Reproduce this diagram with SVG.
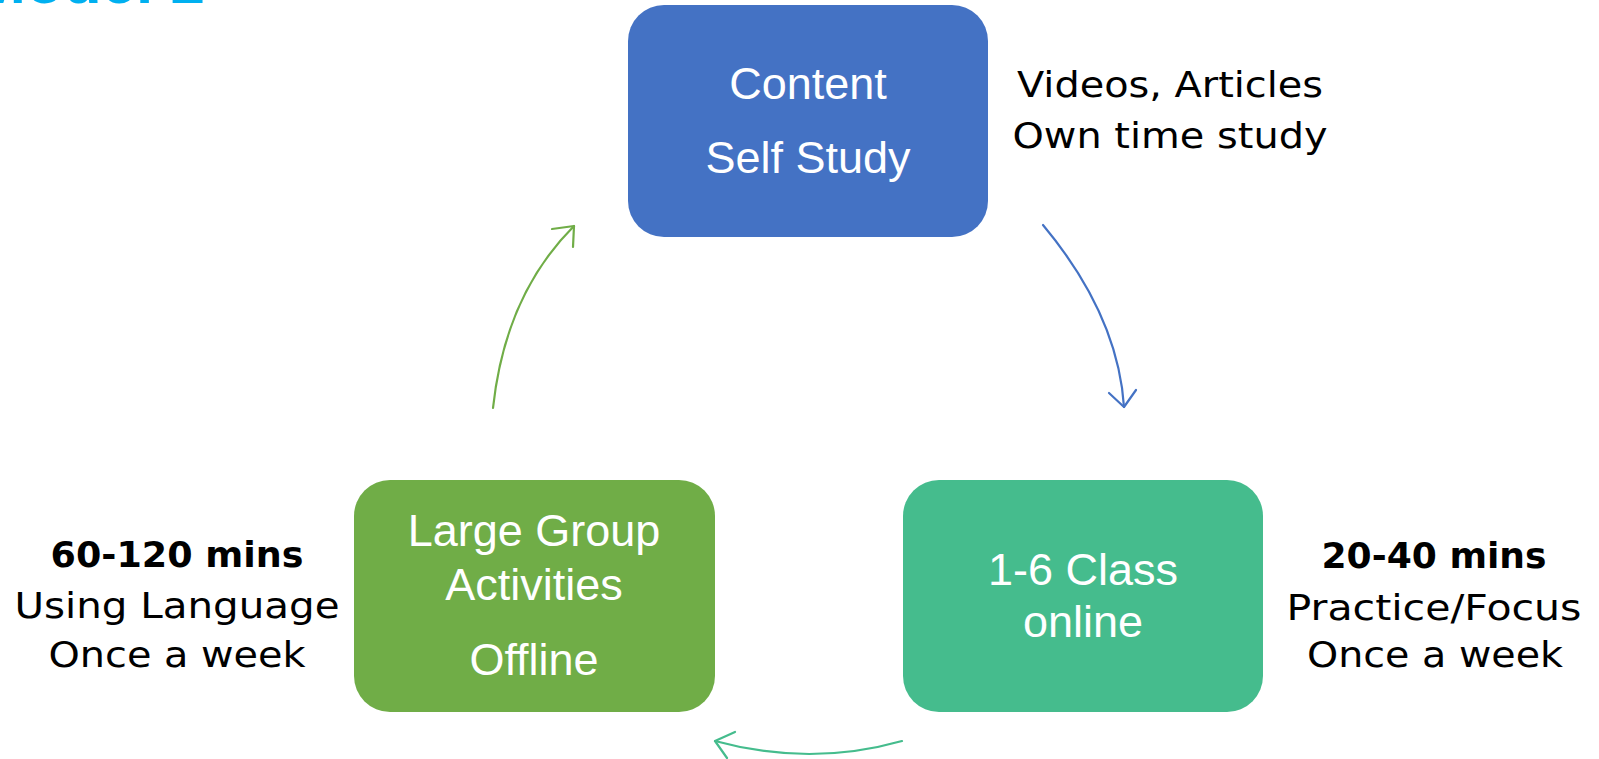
<svg xmlns="http://www.w3.org/2000/svg" width="1599" height="759" viewBox="0 0 1599 759">
<style>
.box-text{font-family:"Liberation Sans",Arial,sans-serif;font-size:45px;fill:#fff;text-anchor:middle}
.note{font-family:"DejaVu Sans","Noto Sans",sans-serif;font-size:35px;fill:#000;text-anchor:middle}
.bold{font-weight:bold}
.conn{fill:none;stroke-width:2.2;stroke-linecap:round;stroke-linejoin:round}
</style>
<rect width="1599" height="759" fill="#fff"/>
<text x="205" y="3" font-family="Liberation Sans,Arial,sans-serif" font-weight="bold" font-size="62" fill="#00B0F0" text-anchor="end">Model 2</text>
<g id="connectors">
<path class="conn" stroke="#4472C4" d="M1043,225 Q1118,315 1124,407"/>
<polyline class="conn" stroke="#4472C4" points="1109,393 1124,407 1136,390"/>
<path class="conn" stroke="#45BC8D" d="M902,741 Q810,767 715,741"/>
<polyline class="conn" stroke="#45BC8D" points="735,732 715,741 727,758"/>
<path class="conn" stroke="#70AD47" d="M493,408 Q505,295 574,226"/>
<polyline class="conn" stroke="#70AD47" points="552,229 574,226 573,247"/>
</g>
<g id="node-content">
<rect x="628" y="5" width="360" height="232" rx="36" fill="#4472C4"/>
<text class="box-text" x="808" y="99">Content</text>
<text class="box-text" x="808" y="173">Self Study</text>
</g>
<g id="node-large-group">
<rect x="354" y="480" width="361" height="232" rx="36" fill="#70AD47"/>
<text class="box-text" x="534" y="546">Large Group</text>
<text class="box-text" x="534" y="600">Activities</text>
<text class="box-text" x="534" y="675">Offline</text>
</g>
<g id="node-class">
<rect x="903" y="480" width="360" height="232" rx="36" fill="#45BC8D"/>
<text class="box-text" x="1083" y="585">1-6 Class</text>
<text class="box-text" x="1083" y="637">online</text>
</g>
<g id="note-content">
<text class="note" x="1170" y="97" textLength="306" lengthAdjust="spacingAndGlyphs">Videos, Articles</text>
<text class="note" x="1170" y="148" textLength="315" lengthAdjust="spacingAndGlyphs">Own time study</text>
</g>
<g id="note-large-group">
<text class="note bold" x="177" y="567" textLength="253" lengthAdjust="spacingAndGlyphs">60-120 mins</text>
<text class="note" x="177" y="618" textLength="325" lengthAdjust="spacingAndGlyphs">Using Language</text>
<text class="note" x="177" y="667" textLength="257" lengthAdjust="spacingAndGlyphs">Once a week</text>
</g>
<g id="note-class">
<text class="note bold" x="1434" y="568" textLength="225" lengthAdjust="spacingAndGlyphs">20-40 mins</text>
<text class="note" x="1434" y="620" textLength="295" lengthAdjust="spacingAndGlyphs">Practice/Focus</text>
<text class="note" x="1435" y="667" textLength="256" lengthAdjust="spacingAndGlyphs">Once a week</text>
</g>
</svg>
